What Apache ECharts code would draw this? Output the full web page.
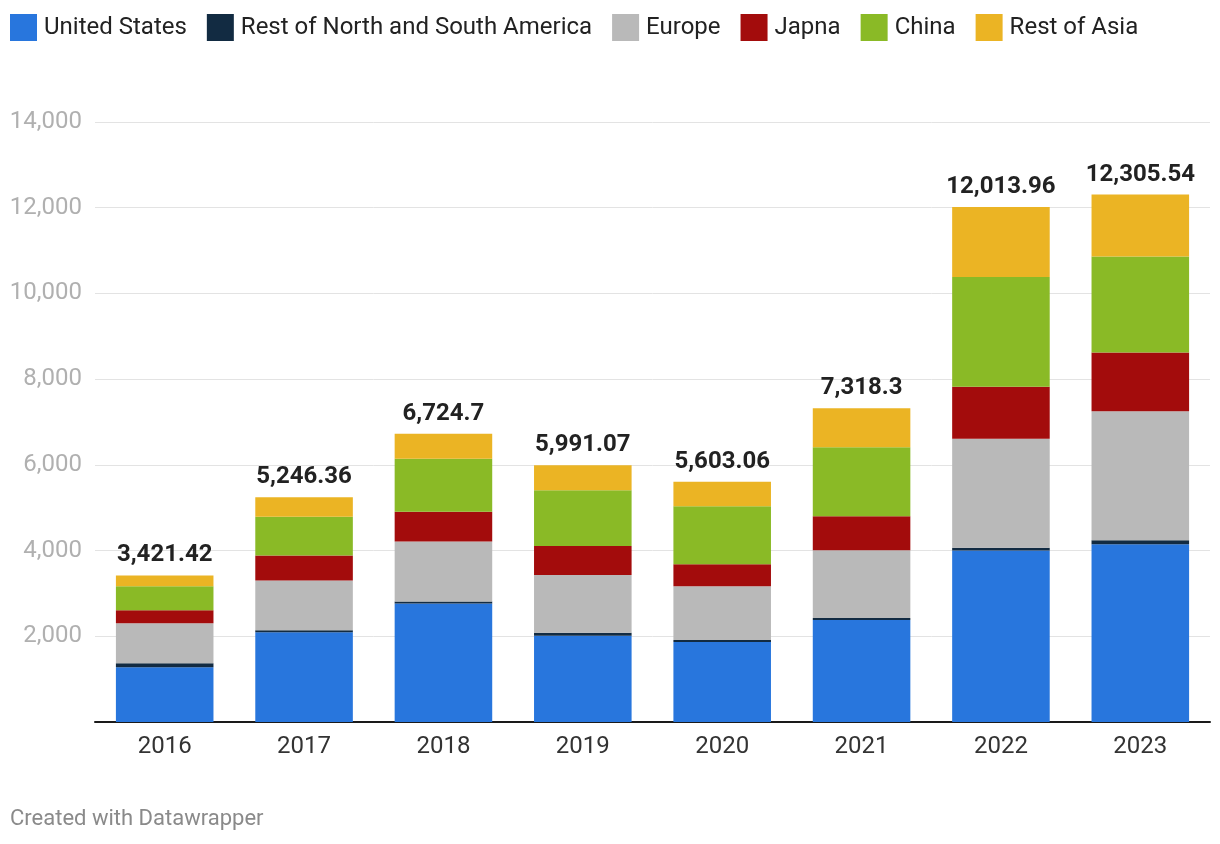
<!DOCTYPE html>
<html>
<head>
<meta charset="utf-8">
<script src="https://cdn.jsdelivr.net/npm/echarts@6/dist/echarts.min.js"></script>
<style>
html,body{margin:0;padding:0;background:#fff;}
#chart{width:1220px;height:844px;}
</style>
</head>
<body>
<div id="chart"></div>
<script>
const years = ['2016','2017','2018','2019','2020','2021','2022','2023'];
const unitedStates = [1279, 2093, 2767, 2010, 1865, 2378, 4000, 4147];
const restAmericas = [93, 47, 47, 70, 46, 46, 68, 93];
const europe = [930, 1162, 1395, 1350, 1259, 1585, 2542, 3011];
const japan = [303, 582, 698, 675, 513, 793, 1212, 1373];
const china = [565, 907, 1233, 1300, 1352, 1608, 2559, 2239];
const restAsia = [251, 455, 585, 586, 568, 908, 1633, 1443];
const totals = ['3,421.42','5,246.36','6,724.7','5,991.07','5,603.06','7,318.3','12,013.96','12,305.54'];
const yTicks = [0, 2000, 4000, 6000, 8000, 10000, 12000, 14000];

const names = ['United States','Rest of North and South America','Europe','Japna','China','Rest of Asia'];
const colors = ['#2876dd','#122b42','#b9b9b9','#a30c0c','#8aba26','#ebb424'];
const data = [unitedStates, restAmericas, europe, japan, china, restAsia];

const FONT = 'Roboto, "Noto Sans", sans-serif';
const chart = echarts.init(document.getElementById('chart'), null, {renderer:'canvas'});

const series = data.map((d, i) => ({
  name: names[i],
  type: 'bar',
  stack: 'total',
  barWidth: '70%',
  data: d,
  itemStyle: {color: colors[i]},
  emphasis: {disabled: true},
  label: i === data.length - 1 ? {
    show: true,
    position: 'top',
    distance: 8,
    formatter: p => totals[p.dataIndex],
    fontFamily: FONT,
    fontSize: 24,
    fontWeight: 'bold',
    color: '#222'
  } : {show: false}
}));

chart.setOption({
  animation: false,
  color: colors,
  textStyle: {fontFamily: FONT},
  legend: {
    left: 5,
    top: 9,
    itemWidth: 27,
    itemHeight: 27,
    itemGap: 20,
    icon: 'rect',
    textStyle: {fontFamily: FONT, fontSize: 24, color: '#222', padding: [0, 0, 0, 2]},
    data: names
  },
  grid: {left: 95, right: 10, top: 122, bottom: 122, containLabel: false},
  xAxis: {
    type: 'category',
    data: years,
    axisLine: {lineStyle: {color: '#1a1a1a', width: 2}},
    axisTick: {show: false},
    axisLabel: {fontFamily: FONT, fontSize: 24, color: '#333', margin: 13}
  },
  yAxis: {
    type: 'value',
    min: yTicks[0],
    max: yTicks[yTicks.length - 1],
    interval: 2000,
    axisLine: {show: false},
    axisTick: {show: false},
    splitLine: {lineStyle: {color: '#e3e3e3', width: 1}},
    axisLabel: {
      fontFamily: FONT, fontSize: 24, color: '#b0b0b0', margin: 13,
      formatter: v => v === 0 ? '' : v.toLocaleString('en-US')
    }
  },
  graphic: [{
    type: 'text',
    left: 10,
    top: 808,
    style: {text: 'Created with Datawrapper', fontFamily: FONT, fontSize: 22, fill: '#8a8a8a'}
  }],
  series: series
});
</script>
</body>
</html>
